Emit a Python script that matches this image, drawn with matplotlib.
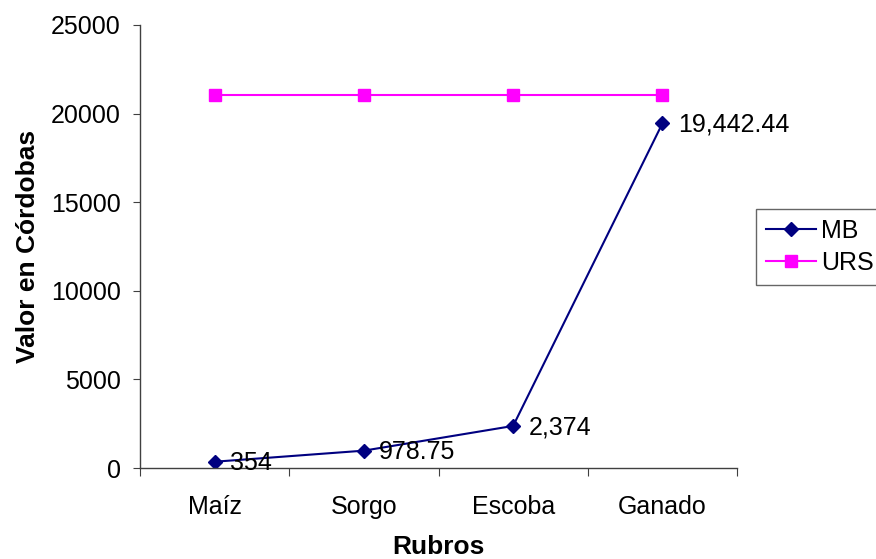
import matplotlib
matplotlib.use("Agg")
import matplotlib.pyplot as plt
import numpy as np

categories = ["Maíz", "Sorgo", "Escoba", "Ganado"]
mb_values = [354, 978.75, 2374, 19442.44]
mb_labels = ["354", "978.75", "2,374", "19,442.44"]
urs_values = [21050, 21050, 21050, 21050]
y_ticks = [0, 5000, 10000, 15000, 20000, 25000]

plt.rcParams['font.family'] = ['Liberation Sans', 'DejaVu Sans']
FS = 18
FSB = 19

fig = plt.figure(figsize=(8.76, 5.59), dpi=100)
ax = fig.add_axes([140/876, 1-468/559, (737-140)/876, (468-25)/559])

x = np.arange(len(categories))
ax.plot(x, mb_values, color="#000080", marker="D", markersize=7, linewidth=1.5, label="MB")
ax.plot(x, urs_values, color="#FF00FF", marker="s", markersize=8.5, linewidth=1.5, label="URS")

for xi, v, lab in zip(x, mb_values, mb_labels):
    ax.annotate(lab, (xi, v), xytext=(11, -1), textcoords="offset points",
                va="center", ha="left", fontsize=FS)

ax.set_xlim(-0.5, len(categories) - 0.5)
ax.set_ylim(0, 25000)
ax.set_yticks(y_ticks)
ax.set_yticklabels([str(t) for t in y_ticks], fontsize=FS)
ax.set_xticks(np.arange(len(categories) + 1) - 0.5)
ax.set_xticklabels([])
ax.set_xticks(x, minor=True)
ax.set_xticklabels(categories, minor=True, fontsize=FS)
ax.tick_params(axis="x", which="major", length=6, direction="out", color="#404040")
ax.tick_params(axis="x", which="minor", length=0, pad=19.5)
ax.tick_params(axis="y", length=5, direction="out", color="#404040", pad=9)

for s in ["top", "right"]:
    ax.spines[s].set_visible(False)
for s in ["left", "bottom"]:
    ax.spines[s].set_color("#404040")
    ax.spines[s].set_linewidth(1.0)

ax.set_ylabel("Valor en Córdobas", fontsize=FSB, fontweight="bold", labelpad=8)
ax.set_xlabel("Rubros", fontsize=FSB, fontweight="bold", labelpad=11.5)

leg = ax.legend(loc="upper left", bbox_to_anchor=(756/876, 1-209/559), bbox_transform=fig.transFigure,
                fontsize=FS, frameon=True, fancybox=False, edgecolor="#404040",
                handlelength=2.0, borderpad=0.4, labelspacing=0.32, handletextpad=0.2, borderaxespad=0)
leg.get_frame().set_linewidth(1.0)

fig.savefig("out.png", dpi=100)
